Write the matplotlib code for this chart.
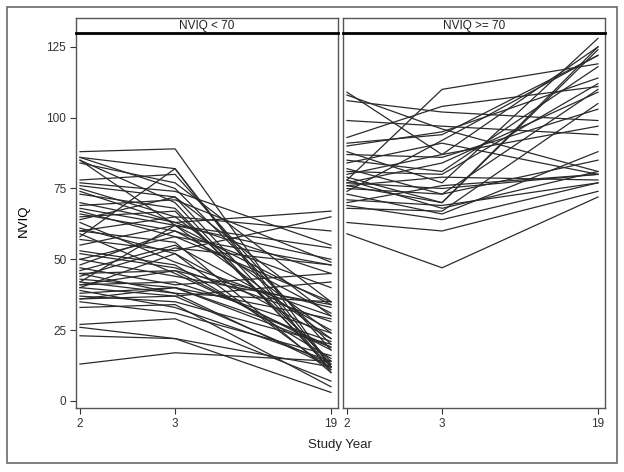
import matplotlib
matplotlib.use("Agg")
import matplotlib.pyplot as plt
from matplotlib.patches import Rectangle

plt.rcParams['font.family'] = ['Liberation Sans', 'DejaVu Sans']

# study years (drawn with uneven spacing, like the original)
years = ["2", "3", "19"]
year_pos = [0, 1, 2.64]

panel_titles = ["NVIQ < 70", "NVIQ >= 70"]

# NVIQ at year 2 / year 3 / year 19, one row per child
low_y2 = [88, 86, 86, 85, 85, 84, 78, 77, 76, 74, 73, 70, 69, 68, 67, 66, 65, 63, 61, 60,
          59, 58, 57, 55, 53, 52, 50, 48, 47, 46, 45, 45, 44, 43, 42, 41, 41, 40, 40, 39,
          38, 37, 36, 36, 35, 33, 27, 26, 23, 13, 42, 60, 50, 64, 75]
low_y3 = [89, 82, 75, 70, 62, 77, 80, 74, 72, 63, 68, 63, 71, 62, 58, 60, 67, 49, 52, 56,
          45, 82, 53, 62, 48, 47, 44, 60, 41, 55, 46, 38, 54, 40, 38, 42, 46, 37, 52, 33,
          40, 35, 40, 37, 31, 34, 29, 22, 22, 17, 62, 65, 58, 72, 65]
low_y19 = [12, 10, 20, 11, 34, 35, 18, 55, 13, 45, 12, 67, 49, 22, 35, 40, 14, 30, 22, 10,
           19, 12, 65, 50, 15, 28, 34, 31, 45, 25, 33, 12, 48, 21, 35, 24, 18, 13, 11, 14,
           29, 20, 19, 42, 16, 5, 7, 3, 12, 14, 54, 60, 48, 30, 24]

high_y2 = [78, 109, 108, 106, 99, 93, 91, 90, 88, 87, 85, 82, 81, 79, 78, 77, 77, 76, 76, 75,
           73, 71, 70, 69, 68, 63, 59, 80, 84, 74]
high_y3 = [110, 87, 96, 102, 97, 104, 94, 95, 77, 86, 81, 73, 80, 70, 68, 75, 84, 70, 79, 73,
           66, 69, 76, 64, 67, 60, 47, 87, 91, 92]
high_y19 = [119, 125, 81, 99, 94, 111, 122, 114, 128, 103, 118, 110, 112, 124, 81, 80, 109, 125, 78, 85,
            88, 77, 80, 77, 105, 74, 72, 97, 80, 122]

groups = [(low_y2, low_y3, low_y19), (high_y2, high_y3, high_y19)]

W, H = 624, 472
fig = plt.figure(figsize=(W / 100, H / 100), dpi=100)

# outer frame
fig.patches.append(Rectangle((7 / W, 1 - 463 / H), 610 / W, 456 / H, transform=fig.transFigure,
                             fill=False, edgecolor='#6a6a6a', linewidth=1.2))

frame_col = '#555555'
lefts = [76, 343]
for k in range(2):
    x0 = lefts[k] / W
    ax = fig.add_axes([x0, 1 - 408 / H, 262 / W, 375 / H])
    a, b, c = groups[k]
    for i in range(len(a)):
        ax.plot(year_pos, [a[i], b[i], c[i]], color='#2b2b2b', linewidth=0.9)
    ax.set_xlim(-0.042, 2.714)
    ax.set_ylim(-2.5, 129.9)
    ax.set_xticks(year_pos)
    ax.set_xticklabels(years)
    ax.set_yticks([0, 25, 50, 75, 100, 125])
    for s in ax.spines.values():
        s.set_color(frame_col)
        s.set_linewidth(1.0)
    ax.tick_params(colors='#333333', labelsize=8.5, length=4, width=0.8, pad=3)
    if k == 0:
        ax.set_ylabel("NVIQ", fontsize=9.5, labelpad=12)
    else:
        ax.tick_params(axis='y', left=False, labelleft=False)

    # header strip
    hx = fig.add_axes([x0, 1 - 33 / H, 262 / W, 15 / H])
    hx.set_xticks([])
    hx.set_yticks([])
    for s in hx.spines.values():
        s.set_color(frame_col)
        s.set_linewidth(1.0)
    hx.spines['bottom'].set_color('black')
    hx.spines['bottom'].set_linewidth(2.0)
    hx.text(0.5, 0.5, panel_titles[k], ha='center', va='center', fontsize=8.5,
            color='#222222', transform=hx.transAxes)

fig.text(340 / W, 1 - 445 / H, "Study Year", ha='center', va='center', fontsize=9.5, color='#222222')

fig.savefig("out.png", dpi=100)
